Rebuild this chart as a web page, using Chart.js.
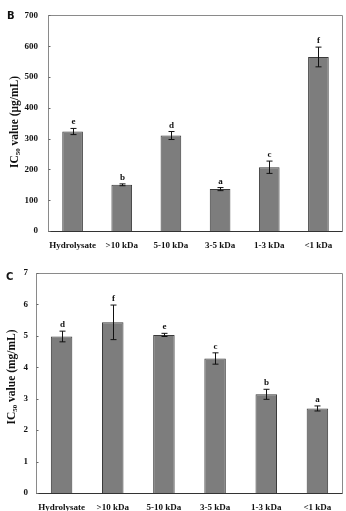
<!DOCTYPE html>
<html><head><meta charset="utf-8">
<script src="https://cdn.jsdelivr.net/npm/chart.js@4/dist/chart.umd.min.js"></script>
<style>
html,body{margin:0;padding:0;background:#fff;}
#wrap{position:relative;width:346px;height:511px;}
.c{position:absolute;left:0;width:346px;}
</style></head><body>
<div id="wrap">
<div class="c" style="top:0;height:252px"><canvas id="b"></canvas></div>
<div class="c" style="top:255px;height:256px"><canvas id="cc"></canvas></div>
</div>
<script>
const categories = ["Hydrolysate", ">10 kDa", "5-10 kDa", "3-5 kDa", "1-3 kDa", "<1 kDa"];
const valuesB = [323, 150, 310, 136, 207, 565];
const errorsB = [10, 3, 13, 5, 20, 32];
const lettersB = ["e", "b", "d", "a", "c", "f"];
const valuesC = [4.98, 5.43, 5.03, 4.28, 3.14, 2.69];
const errorsC = [0.17, 0.55, 0.05, 0.18, 0.16, 0.08];
const lettersC = ["d", "f", "e", "c", "b", "a"];
const ticksB = [0, 100, 200, 300, 400, 500, 600, 700];
const ticksC = [0, 1, 2, 3, 4, 5, 6, 7];

const SERIF = "'Liberation Serif','Times New Roman',serif";

function extrasPlugin(errors, letters, panel, unit, cfg) {
  return {
    id: 'extras' + panel,
    afterDatasetsDraw(chart) {
      const ctx = chart.ctx, a = chart.chartArea;
      const x = chart.scales.x, y = chart.scales.y;
      const ds = chart.data.datasets[0].data;
      ctx.save();
      // frame
      const L = Math.round(a.left) + 0.5, T = Math.round(a.top) + 0.5;
      const R = Math.round(a.right) - 0.5, B = Math.round(a.bottom) + 0.5;
      ctx.strokeStyle = '#8a8a8a'; ctx.lineWidth = 1;
      ctx.beginPath();
      ctx.moveTo(L, B); ctx.lineTo(L, T); ctx.lineTo(R, T); ctx.lineTo(R, B);
      ctx.stroke();
      ctx.strokeStyle = '#333';
      ctx.beginPath(); ctx.moveTo(L, B); ctx.lineTo(R, B); ctx.stroke();
      // inward y tick marks
      ctx.strokeStyle = '#666';
      y.ticks.forEach(t => {
        const yy = Math.round(y.getPixelForValue(t.value)) + 0.5;
        ctx.beginPath(); ctx.moveTo(L, yy); ctx.lineTo(L + 2, yy); ctx.stroke();
      });
      // error bars and letters
      ctx.strokeStyle = '#111'; ctx.lineWidth = 1;
      ctx.fillStyle = '#111';
      ctx.font = "bold 9px " + SERIF;
      ctx.textAlign = 'center'; ctx.textBaseline = 'alphabetic';
      ds.forEach((v, i) => {
        const cx = Math.round(x.getPixelForValue(i)) + 0.5;
        const yt = y.getPixelForValue(v + errors[i]);
        const yb = y.getPixelForValue(v - errors[i]);
        ctx.beginPath();
        ctx.moveTo(cx, yt); ctx.lineTo(cx, yb);
        ctx.moveTo(cx - 3, yt); ctx.lineTo(cx + 3, yt);
        ctx.moveTo(cx - 3, yb); ctx.lineTo(cx + 3, yb);
        ctx.stroke();
        ctx.fillText(letters[i], cx, yt - 4);
      });
      // panel letter
      ctx.font = "bold 10px 'DejaVu Sans',sans-serif";
      ctx.textAlign = 'left'; ctx.textBaseline = 'top';
      ctx.fillText(panel, cfg.px, cfg.py);
      // y title with subscript
      ctx.translate(cfg.tx, cfg.ty);
      ctx.rotate(-Math.PI / 2);
      const big = "bold 11.5px " + SERIF, small = "bold 7px " + SERIF;
      const parts = [["IC", big, 0], ["50", small, 3], [" value (" + unit + ")", big, 0]];
      let w = 0;
      parts.forEach(p => { ctx.font = p[1]; w += ctx.measureText(p[0]).width; });
      let xx = -w / 2;
      ctx.textBaseline = 'middle';
      parts.forEach(p => { ctx.font = p[1]; ctx.fillText(p[0], xx, p[2]); xx += ctx.measureText(p[0]).width; });
      ctx.restore();
    }
  };
}

function makeChart(id, values, errors, letters, ticks, panel, unit, g) {
  return new Chart(document.getElementById(id), {
    type: 'bar',
    data: {
      labels: categories,
      datasets: [{
        data: values,
        backgroundColor: '#7d7d7d',
        borderColor: '#3a3a3a',
        borderWidth: 1,
        barPercentage: 0.42,
        categoryPercentage: 1.0
      }]
    },
    options: {
      responsive: true, maintainAspectRatio: false, animation: false,
      layout: { padding: { left: 0, right: 3, top: g.top, bottom: 0 } },
      plugins: { legend: { display: false }, tooltip: { enabled: false } },
      scales: {
        x: {
          grid: { display: false, drawTicks: false },
          border: { display: false },
          ticks: { color: '#111', font: { family: SERIF, weight: 'bold', size: 9 }, padding: g.xpad, maxRotation: 0, autoSkip: false },
          afterFit(s) { s.height = g.xh; }
        },
        y: {
          min: ticks[0], max: ticks[ticks.length - 1],
          grid: { display: false, drawTicks: false },
          border: { display: false },
          afterBuildTicks(s) { s.ticks = ticks.map(v => ({ value: v })); },
          ticks: { color: '#111', font: { family: SERIF, weight: 'bold', size: 9 }, padding: g.ypad },
          afterFit(s) { s.width = g.yw; }
        }
      }
    },
    plugins: [extrasPlugin(errors, letters, panel, unit, g)]
  });
}

makeChart('b', valuesB, errorsB, lettersB, ticksB, 'B', 'μg/mL', {top: 11, xh: 21, xpad: 9, yw: 48, ypad: 10, px: 7, py: 11, tx: 15, ty: 122});
makeChart('cc', valuesC, errorsC, lettersC, ticksC, 'C', 'mg/mL', {top: 18, xh: 18, xpad: 9, yw: 36, ypad: 8, px: 6, py: 17, tx: 12, ty: 122});
</script>
</body></html>
